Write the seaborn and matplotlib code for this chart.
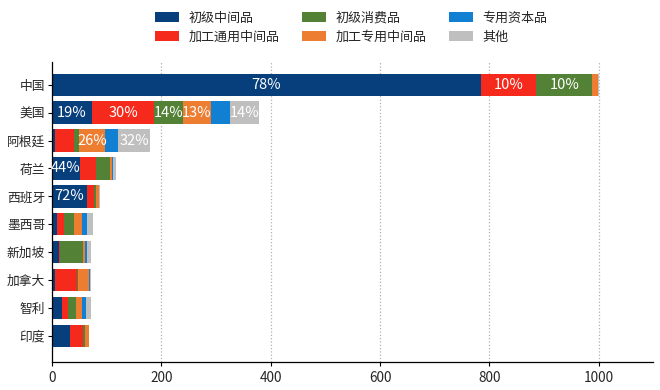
import numpy as np
import pandas as pd
import matplotlib
matplotlib.use("Agg")
import matplotlib.pyplot as plt
import seaborn as sns
from matplotlib.patches import Patch

# Data
countries = ["中国", "美国", "阿根廷", "荷兰", "西班牙", "墨西哥", "新加坡", "加拿大", "智利", "印度"]
series_names = ["初级中间品", "加工通用中间品", "初级消费品", "加工专用中间品", "专用资本品", "其他"]
primary_inter = [784, 73, 6, 51, 63, 9, 12, 5, 18, 32]
general_inter = [102, 114, 34, 29, 13, 13, 3, 40, 11, 25]
primary_cons = [102, 53, 10, 25, 5, 18, 41, 2, 15, 3]
special_inter = [10, 50, 47, 5, 4, 14, 4, 20, 10, 7]
capital_goods = [1, 35, 24, 1, 1, 9, 4, 3, 8, 0]
others = [1, 53, 58, 5, 2, 12, 8, 1, 10, 1]
colors = ["#073E7C", "#F52A1C", "#538135", "#ED7D31", "#1180D2", "#BFBFBF"]

values = [primary_inter, general_inter, primary_cons, special_inter, capital_goods, others]

sns.set_style("white")
plt.rcParams["font.family"] = ["Noto Sans CJK SC", "DejaVu Sans"]

fig, ax = plt.subplots(figsize=(6.6, 3.9), dpi=100)
fig.subplots_adjust(left=0.079, right=0.99, top=0.84, bottom=0.072)

df = pd.DataFrame(np.array(values).T, columns=series_names, index=countries)
cum = df.cumsum(axis=1)
totals = df.sum(axis=1)

# stacked bars: draw cumulative totals from the last series to the first
for name, col in reversed(list(zip(series_names, colors))):
    sns.barplot(x=cum[name].values, y=countries, orient="h", color=col,
                saturation=1, width=0.8, ax=ax, linewidth=0)

# percentage labels on the wide segments
for i, c in enumerate(countries):
    for name in series_names:
        v = df.loc[c, name]
        if v >= 45:
            pct = v / totals[c] * 100
            ax.text(cum.loc[c, name] - v / 2, i, f"{pct:.0f}%", color="white",
                    ha="center", va="center", fontsize=10.5)

ax.set_xlim(0, 1100)
ax.set_ylim(9.93, -0.8)
ax.set_xticks([0, 200, 400, 600, 800, 1000])
ax.grid(axis="x", linestyle=":", color="#b0b0b0", linewidth=0.9)
ax.set_axisbelow(True)
ax.set_xlabel("")
ax.set_ylabel("")
sns.despine(ax=ax)
for s in ["left", "bottom"]:
    ax.spines[s].set_color("black")
    ax.spines[s].set_linewidth(0.9)
ax.tick_params(axis="both", which="major", length=3, width=0.8, color="black",
               labelsize=9.2, left=True, bottom=True)
ax.tick_params(axis="y", pad=2)
ax.tick_params(axis="x", labelsize=9.8)

handles = [Patch(facecolor=col, edgecolor="none", label=name)
           for name, col in zip(series_names, colors)]
fig.legend(handles=handles, loc="upper center", bbox_to_anchor=(0.532, 1.0),
           ncol=3, frameon=False, fontsize=9.4, handlelength=1.85, handleheight=0.75,
           columnspacing=1.7, labelspacing=0.45, handletextpad=0.75)

fig.savefig("out.png", dpi=100)
